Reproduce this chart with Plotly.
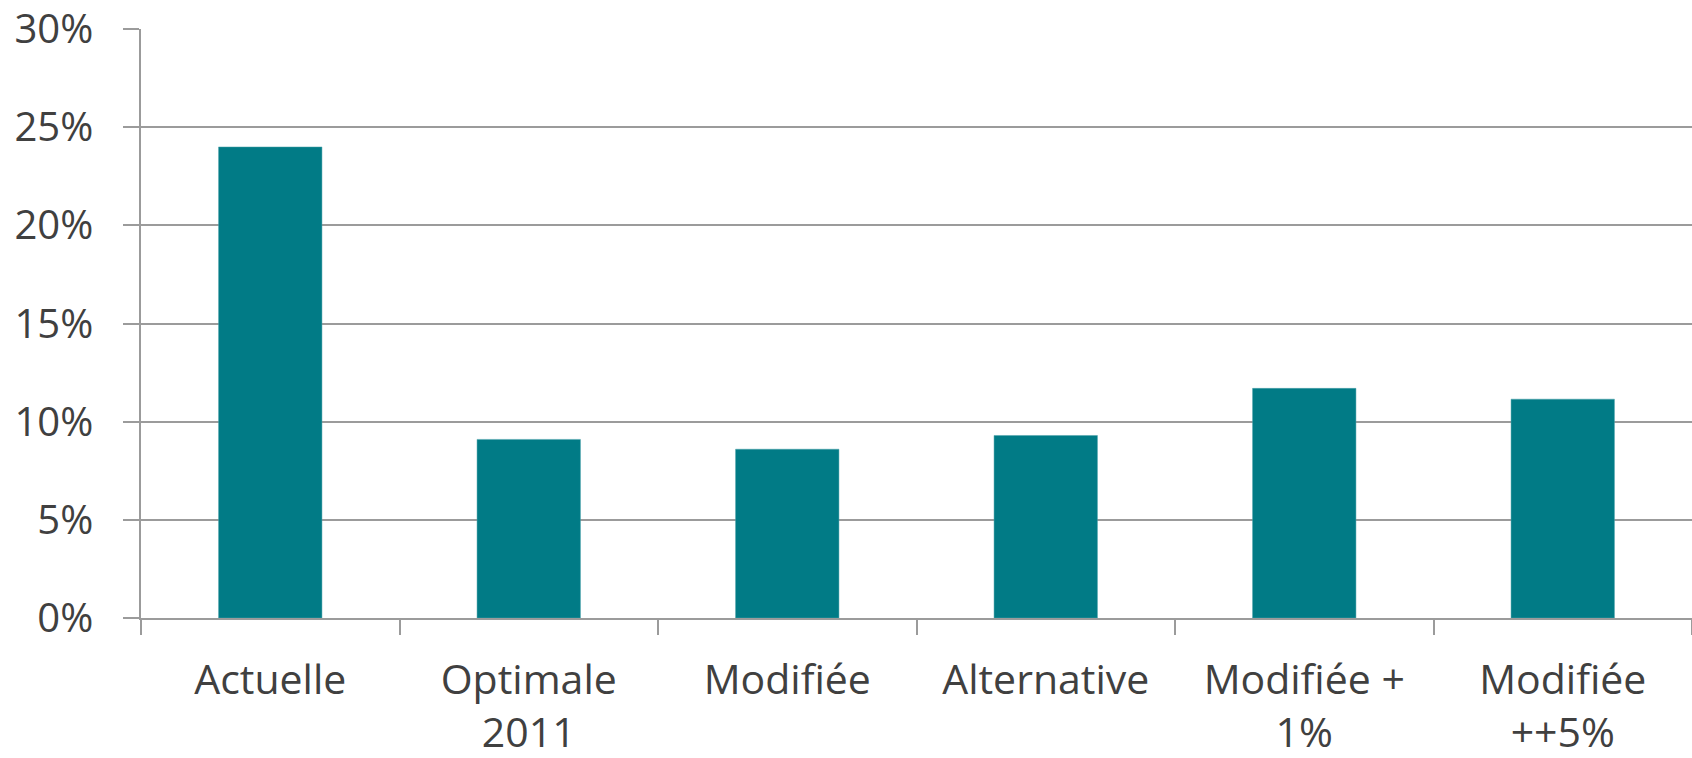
import plotly.graph_objects as go

categories = ["Actuelle", "Optimale<br>2011", "Modifiée", "Alternative", "Modifiée +<br>1%", "Modifiée<br>++5%"]
values = [0.240, 0.091, 0.086, 0.093, 0.117, 0.1115]
y_ticks = [0, 0.05, 0.10, 0.15, 0.20, 0.25, 0.30]

FONT = "Open Sans, Liberation Sans, sans-serif"
TXT = "#404040"
GRID = "#9b9b9b"

fig = go.Figure(go.Bar(
    x=categories, y=values,
    marker=dict(color="#017b86", line=dict(color="#4fa3aa", width=0.5)),
    hoverinfo="skip",
))

fig.update_layout(
    width=1692, height=758,
    margin=dict(l=141, r=0, t=29, b=140),
    paper_bgcolor="white", plot_bgcolor="white",
    bargap=0.6,
    showlegend=False,
    font=dict(family=FONT, color=TXT, size=40),
)
fig.update_yaxes(
    range=[0, 0.3001], tickvals=y_ticks, tickformat=".0%",
    showgrid=True, gridcolor=GRID, gridwidth=1.5,
    showline=True, linecolor=GRID, linewidth=1.5,
    ticks="outside", ticklen=16, tickcolor=GRID, tickwidth=1.5,
    ticklabelstandoff=22, zeroline=False, ticklabeloverflow="allow",
    automargin=False,
    tickfont=dict(size=40, color=TXT, family=FONT),
)
fig.update_xaxes(
    showline=True, linecolor=GRID, linewidth=1.5,
    ticks="outside", tickson="boundaries", ticklen=15, tickcolor=GRID, tickwidth=1.5,
    ticklabelstandoff=25, ticklabeloverflow="allow",
    automargin=False,
    tickfont=dict(size=41, color=TXT, family=FONT),
)

fig.write_html(
    "out.html",
    config={"displayModeBar": False},
    post_script="document.body.style.margin='0';",
)
